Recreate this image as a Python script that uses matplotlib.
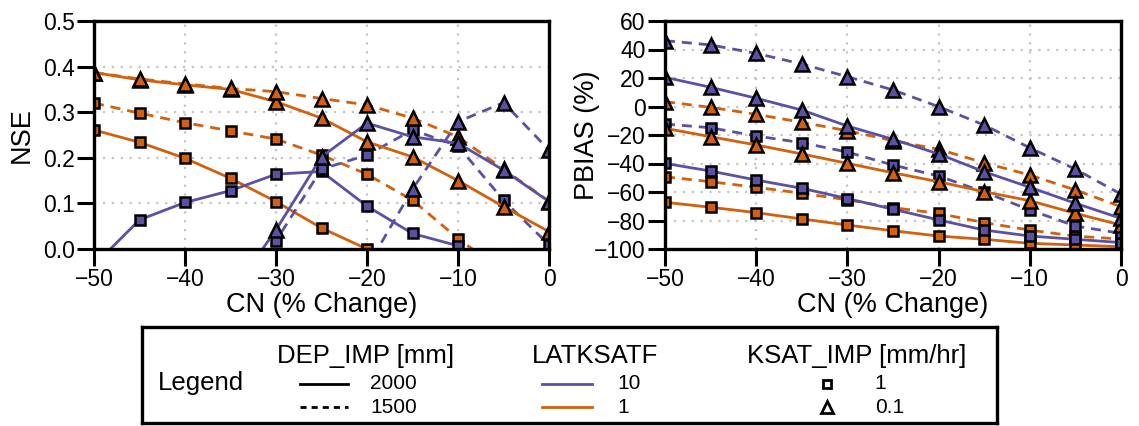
import matplotlib
matplotlib.use('Agg')
import matplotlib.pyplot as plt
from matplotlib import font_manager

# CN change (%) at each model run
cn_change = [-50, -45, -40, -35, -30, -25, -20, -15, -10, -5, 0]

# NSE  (dep = DEP_IMP mm, lat = LATKSATF, ksat = KSAT_IMP mm/hr)
nse_dep2000_lat1_ksat01 = [0.387, 0.371, 0.360, 0.350, 0.323, 0.287, 0.235, 0.202, 0.150, 0.093, 0.038]
nse_dep1500_lat1_ksat01 = [0.387, 0.373, 0.362, 0.352, 0.345, 0.330, 0.316, 0.287, 0.246, 0.175, 0.105]
nse_dep2000_lat1_ksat1 = [0.261, 0.234, 0.199, 0.155, 0.104, 0.046, 0.000, -0.060, -0.120, -0.180, -0.240]
nse_dep1500_lat1_ksat1 = [0.320, 0.298, 0.277, 0.259, 0.241, 0.206, 0.164, 0.107, 0.023, -0.050, -0.130]
nse_dep2000_lat10_ksat1 = [-0.036, 0.064, 0.102, 0.128, 0.164, 0.170, 0.094, 0.034, 0.007, -0.060, -0.120]
nse_dep1500_lat10_ksat1 = [-0.200, -0.150, -0.120, -0.070, 0.018, 0.175, 0.206, 0.261, 0.226, 0.107, 0.009]
nse_dep2000_lat10_ksat01 = [-0.300, -0.250, -0.200, -0.100, 0.042, 0.202, 0.276, 0.246, 0.232, 0.173, 0.104]
nse_dep1500_lat10_ksat01 = [-0.400, -0.350, -0.300, -0.250, -0.200, -0.120, -0.040, 0.131, 0.279, 0.321, 0.217]

# PBIAS (%)
pb_dep2000_lat1_ksat01 = [-15.3, -21.2, -27.0, -33.3, -39.9, -46.5, -52.8, -59.8, -66.1, -75.0, -83.2]
pb_dep1500_lat1_ksat01 = [3.4, -0.6, -5.5, -11.1, -17.0, -24.0, -30.0, -39.5, -48.1, -58.6, -70.3]
pb_dep2000_lat1_ksat1 = [-67.2, -70.7, -74.5, -78.9, -83.2, -87.2, -90.9, -93.2, -96.0, -97.2, -98.4]
pb_dep1500_lat1_ksat1 = [-49.3, -52.8, -56.7, -60.9, -65.5, -71.0, -75.0, -81.5, -86.7, -91.0, -93.0]
pb_dep2000_lat10_ksat1 = [-39.9, -45.3, -51.6, -57.4, -64.6, -72.1, -79.6, -86.7, -90.9, -93.2, -95.5]
pb_dep1500_lat10_ksat1 = [-12.3, -14.9, -20.7, -25.4, -32.0, -41.1, -48.8, -60.0, -72.6, -83.9, -89.0]
pb_dep2000_lat10_ksat01 = [20.5, 13.5, 5.8, -2.5, -13.7, -23.0, -33.3, -45.8, -56.7, -67.9, -78.5]
pb_dep1500_lat10_ksat01 = [46.2, 43.2, 37.3, 29.8, 20.9, 11.6, -0.1, -13.0, -29.0, -44.0, -61.5]

nse_ticks = [0.0, 0.1, 0.2, 0.3, 0.4, 0.5]
pbias_ticks = [-100, -80, -60, -40, -20, 0, 20, 40, 60]
x_ticks = [-50, -40, -30, -20, -10, 0]

purple = '#5b51a3'
orange = '#d2600c'
dashed = (0, (3.6, 2.5))

installed = {f.name for f in font_manager.fontManager.ttflist}
if 'Liberation Sans Narrow' in installed:
    label_font, label_size = 'Liberation Sans Narrow', 23
else:
    label_font, label_size = 'Liberation Sans', 19.5
plt.rcParams['font.family'] = 'Liberation Sans'


def draw(ax, y, color, ls, marker):
    ms = 10 if marker == '^' else 7.5
    ax.plot(cn_change, y, color=color, linestyle=ls, lw=2, marker=marker,
            ms=ms, mfc=color, mec='black', mew=1.8)


def style_axes(ax, ticks, ylabel, ylab_x):
    ax.set_xlim(-50, 0)
    ax.set_ylim(ticks[0], ticks[-1])
    ax.set_xticks(x_ticks)
    ax.set_yticks(ticks)
    ax.grid(True, color='#c4c4c4', linestyle=(0, (1, 3)), lw=1.6)
    ax.set_axisbelow(True)
    for s in ax.spines.values():
        s.set_linewidth(2.4)
    ax.tick_params(direction='out', length=12, width=2.2, labelsize=16.5, pad=2)
    ax.set_xlabel('CN (% Change)', fontsize=label_size, family=label_font)
    ax.set_ylabel(ylabel, fontsize=label_size, family=label_font)
    ax.xaxis.set_label_coords(0.5, -0.19)
    ax.yaxis.set_label_coords(ylab_x, 0.5)


fig = plt.figure(figsize=(11.39, 4.26), dpi=100)
ax1 = fig.add_axes([94 / 1139, 1 - 249 / 426, 455 / 1139, 228 / 426])
ax2 = fig.add_axes([665 / 1139, 1 - 249 / 426, 456 / 1139, 228 / 426])

# left: NSE
draw(ax1, nse_dep2000_lat1_ksat1, orange, '-', 's')
draw(ax1, nse_dep1500_lat1_ksat1, orange, dashed, 's')
draw(ax1, nse_dep2000_lat10_ksat1, purple, '-', 's')
draw(ax1, nse_dep1500_lat10_ksat1, purple, dashed, 's')
draw(ax1, nse_dep2000_lat1_ksat01, orange, '-', '^')
draw(ax1, nse_dep1500_lat1_ksat01, orange, dashed, '^')
draw(ax1, nse_dep2000_lat10_ksat01, purple, '-', '^')
draw(ax1, nse_dep1500_lat10_ksat01, purple, dashed, '^')
style_axes(ax1, nse_ticks, 'NSE', -0.13)
ax1.yaxis.set_major_formatter(plt.FormatStrFormatter('%.1f'))

# right: PBIAS
draw(ax2, pb_dep2000_lat1_ksat1, orange, '-', 's')
draw(ax2, pb_dep1500_lat1_ksat1, orange, dashed, 's')
draw(ax2, pb_dep2000_lat10_ksat1, purple, '-', 's')
draw(ax2, pb_dep1500_lat10_ksat1, purple, dashed, 's')
draw(ax2, pb_dep2000_lat1_ksat01, orange, '-', '^')
draw(ax2, pb_dep1500_lat1_ksat01, orange, dashed, '^')
draw(ax2, pb_dep2000_lat10_ksat01, purple, '-', '^')
draw(ax2, pb_dep1500_lat10_ksat01, purple, dashed, '^')
style_axes(ax2, pbias_ticks, 'PBIAS (%)', -0.143)

# legend box underneath both panels
leg = fig.add_axes([142 / 1139, 3 / 426, 855 / 1139, 96 / 426])
leg.set_xlim(0, 1)
leg.set_ylim(0, 1)
leg.set_xticks([])
leg.set_yticks([])
for s in leg.spines.values():
    s.set_linewidth(2.4)

head = dict(fontsize=label_size - 1, family=label_font, va='center')
row = dict(fontsize=label_size - 4.5, family=label_font, va='center')
leg.text(0.019, 0.42, 'Legend', **head)
leg.text(0.158, 0.70, 'DEP_IMP [mm]', **head)
leg.text(0.456, 0.70, 'LATKSATF', **head)
leg.text(0.708, 0.70, 'KSAT_IMP [mm/hr]', **head)

row1, row2 = 0.41, 0.165
leg.plot([0.185, 0.241], [row1, row1], color='black', lw=2)
leg.plot([0.185, 0.241], [row2, row2], color='black', lw=2, linestyle=(0, (2.2, 1.8)))
leg.text(0.267, row1, '2000', **row)
leg.text(0.267, row2, '1500', **row)

leg.plot([0.468, 0.526], [row1, row1], color=purple, lw=2)
leg.plot([0.468, 0.526], [row2, row2], color=orange, lw=2)
leg.text(0.556, row1, '10', **row)
leg.text(0.556, row2, '1', **row)

leg.plot([0.801], [row1], marker='s', ms=6, mfc='white', mec='black', mew=2)
leg.plot([0.801], [row2], marker='^', ms=8, mfc='white', mec='black', mew=2)
leg.text(0.857, row1, '1', **row)
leg.text(0.857, row2, '0.1', **row)

fig.savefig('out.png', dpi=100)
